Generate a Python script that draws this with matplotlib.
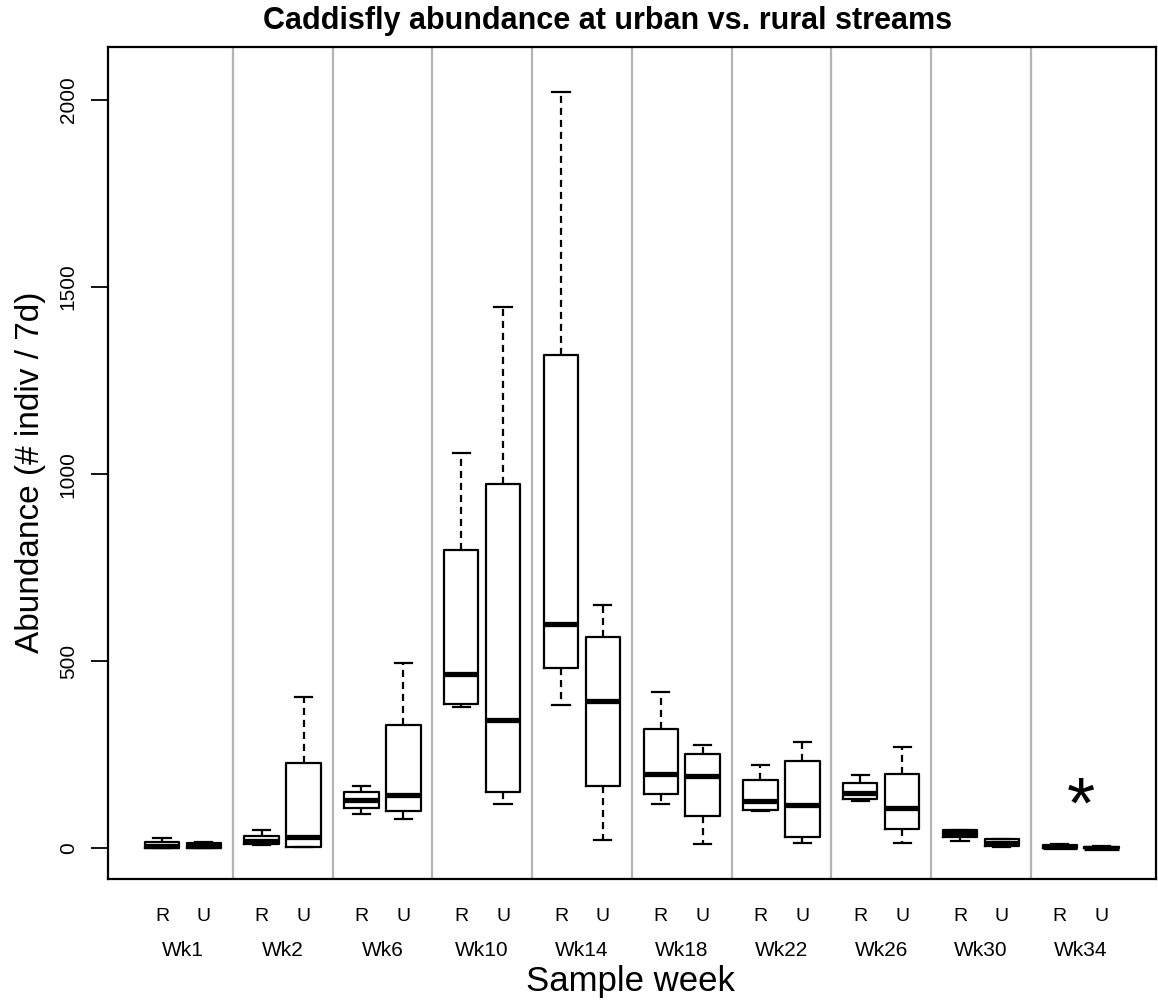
import matplotlib
matplotlib.use("Agg")
import matplotlib.pyplot as plt

plt.rcParams['font.family'] = ['Liberation Sans', 'DejaVu Sans']

# sample weeks and the two stream types
weeks = ["Wk1", "Wk2", "Wk6", "Wk10", "Wk14", "Wk18", "Wk22", "Wk26", "Wk30", "Wk34"]
sites = ["R", "U"]

# rural box summaries: lower whisker, Q1, median, Q3, upper whisker
r_lo = [0, 9, 93, 378, 382, 118, 100, 126, 21, 0]
r_q1 = [1, 11, 108, 385, 483, 146, 103, 133, 31, 1]
r_med = [6, 19, 129, 466, 599, 199, 126, 148, 40, 4]
r_q3 = [17, 34, 150, 797, 1318, 319, 183, 175, 49, 8]
r_hi = [27, 50, 168, 1057, 2020, 418, 222, 197, 50, 11]

# urban box summaries
u_lo = [0, 4, 78, 118, 23, 12, 14, 14, 4, 0]
u_q1 = [1, 5, 100, 152, 168, 86, 31, 52, 6, 0]
u_med = [7, 31, 143, 342, 395, 193, 117, 109, 15, 2]
u_q3 = [15, 229, 330, 973, 564, 252, 234, 199, 25, 5]
u_hi = [17, 405, 496, 1447, 650, 277, 284, 272, 26, 6]

yticks = [0, 500, 1000, 1500, 2000]

gap = 0.42      # distance between R and U boxes inside a week
width = 0.345

stats, pos, labels = [], [], []
for i in range(len(weeks)):
    stats.append(dict(whislo=r_lo[i], q1=r_q1[i], med=r_med[i], q3=r_q3[i], whishi=r_hi[i], fliers=[]))
    stats.append(dict(whislo=u_lo[i], q1=u_q1[i], med=u_med[i], q3=u_q3[i], whishi=u_hi[i], fliers=[]))
    pos += [i, i + gap]
    labels += sites

fig = plt.figure(figsize=(11.58, 10.02), dpi=100)
ax = fig.add_axes([0.0935, 0.1225, 0.9052, 0.8309])

# grey separators between weeks
for i in range(len(weeks) - 1):
    ax.axvline(i + 0.71, color="#b4b4b4", lw=1.6, zorder=0)

ax.bxp(stats, positions=pos, widths=width, showfliers=False, patch_artist=False,
       boxprops=dict(color="black", lw=1.6),
       medianprops=dict(color="black", lw=3.8, solid_capstyle="butt"),
       whiskerprops=dict(color="black", lw=1.6, linestyle=(0, (3.2, 2.2))),
       capprops=dict(color="black", lw=1.6),
       capwidths=width * 0.5)

ax.text(9.21, 105, "*", fontsize=52, ha="center", va="center")

ax.set_xlim(-0.538, 9.97)
ax.set_ylim(-82.4, 2142.4)

ax.set_yticks(yticks)
ax.set_yticklabels([str(t) for t in yticks], rotation=90, va="center", fontsize=15)
ax.tick_params(axis="y", length=12, width=1.3, pad=10)

ax.set_xticks(pos)
ax.set_xticklabels(labels, fontsize=14)
ax.tick_params(axis="x", length=0, pad=21)

for i, w in enumerate(weeks):
    ax.text(i + gap / 2, -0.085, w, fontsize=15, ha="center", va="center",
            transform=ax.get_xaxis_transform())

for s in ax.spines.values():
    s.set_linewidth(1.6)

fig.text(0.525, 0.979, "Caddisfly abundance at urban vs. rural streams",
         fontsize=22, fontweight="bold", ha="center", va="center")
fig.text(0.544, 0.020, "Sample week", fontsize=25, ha="center", va="center")
fig.text(0.026, 0.529, "Abundance (# indiv / 7d)", fontsize=24, rotation=90,
         ha="center", va="center")

fig.savefig("out.png", dpi=100)
